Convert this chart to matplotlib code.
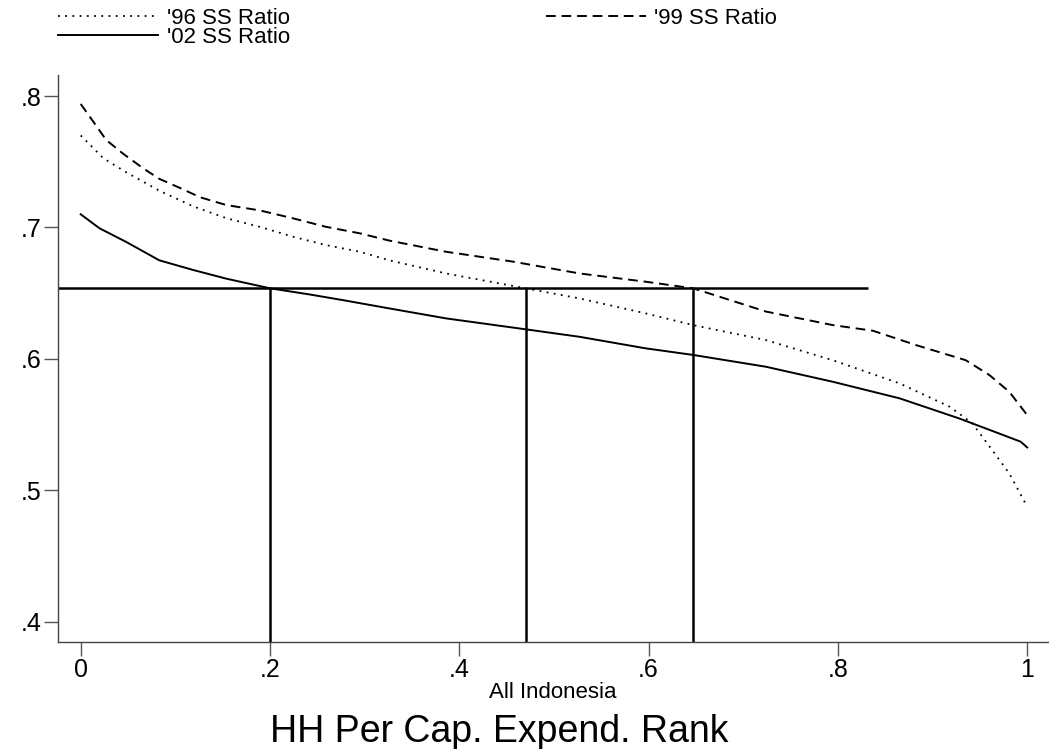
import matplotlib
matplotlib.use("Agg")
import matplotlib.pyplot as plt
from matplotlib.ticker import FuncFormatter

plt.rcParams["font.family"] = ["Liberation Sans", "DejaVu Sans"]

# ── data ────────────────────────────────────────────────────────────────────
rank_96 = [0, .024, .048, .083, .119, .154, .189, .224, .259, .295, .326, .386,
           .47, .527, .597, .647, .724, .7945, .865, .918, .942, .963, .981, 1.0]
ratio_96 = [.770, .7526, .742, .728, .716, .707, .7005, .693, .6866, .6815, .675, .665,
            .6537, .646, .6346, .6257, .6143, .599, .5814, .5636, .551, .5306, .5129, .4875]

rank_99 = [0, .027, .045, .066, .083, .105, .126, .154, .189, .224, .259, .295, .326,
           .386, .4565, .527, .597, .647, .724, .7945, .837, .8825, .935, .960, .981, 1.0]
ratio_99 = [.794, .7665, .756, .745, .737, .730, .723, .717, .713, .707, .7005, .6955, .690,
            .6815, .674, .665, .6587, .6537, .636, .6257, .6214, .6105, .599, .5877, .575, .5572]

rank_02 = [0, .020, .048, .083, .119, .154, .2, .242, .277, .326, .386, .47, .527,
           .597, .647, .724, .7945, .865, .928, .970, .993, 1.0]
ratio_02 = [.710, .6993, .689, .675, .6676, .661, .6537, .649, .6447, .6384, .6308, .6225, .6168,
            .608, .603, .594, .5826, .570, .5547, .5433, .537, .5326]

ref_level = 0.6537          # horizontal reference line
ref_line_end = 0.832
ref_ranks = [0.2, 0.47, 0.647]   # vertical drop lines

x_ticks = [0, .2, .4, .6, .8, 1]
y_ticks = [.4, .5, .6, .7, .8]

# ── figure ──────────────────────────────────────────────────────────────────
W, H = 1049, 749
fig = plt.figure(figsize=(W / 100, H / 100), dpi=100)
ax = fig.add_axes([58 / W, (H - 641.7) / H, 991 / W, 566.7 / H])

LW = 1.4
l96, = ax.plot(rank_96, ratio_96, color="black", lw=1.3, linestyle=(0, (1, 3)))
l99, = ax.plot(rank_99, ratio_99, color="black", lw=LW, linestyle=(0, (5, 3)))
l02, = ax.plot(rank_02, ratio_02, color="black", lw=LW, linestyle="-")

ax.set_xlim(-0.024, 1.023)
ax.set_ylim(0.3848, 0.816)

ax.hlines(ref_level, -0.024, ref_line_end, color="black", lw=1.8)
ax.vlines(ref_ranks, 0.3848, ref_level, color="black", lw=1.8)

for side in ("top", "right"):
    ax.spines[side].set_visible(False)
for side in ("left", "bottom"):
    ax.spines[side].set_color("#444444")
    ax.spines[side].set_linewidth(1.0)

fmt = FuncFormatter(lambda v, _: ("%g" % round(v, 2)).replace("0.", "."))
ax.set_xticks(x_ticks)
ax.set_yticks(y_ticks)
ax.xaxis.set_major_formatter(fmt)
ax.yaxis.set_major_formatter(fmt)
ax.tick_params(axis="both", length=10, width=1.0, color="#555555",
               labelsize=18, pad=2)

# ── legend ──────────────────────────────────────────────────────────────────
fig.legend(handles=[l96, l02, l99],
           labels=["'96 SS Ratio", "'02 SS Ratio", "'99 SS Ratio"],
           ncol=2, loc="upper left", bbox_to_anchor=(58 / W, 1 - 8 / H),
           frameon=False, borderpad=0, borderaxespad=0, fontsize=16,
           handlelength=4.5, handletextpad=0.4, columnspacing=11.5,
           labelspacing=-0.08)

# ── titles ──────────────────────────────────────────────────────────────────
fig.text(553 / W, 1 - 698 / H, "All Indonesia", ha="center", va="baseline",
         fontsize=16)
fig.text(499 / W, 1 - 742 / H, "HH Per Cap. Expend. Rank", ha="center",
         va="baseline", fontsize=27)

fig.savefig("out.png", dpi=100, facecolor="white")
